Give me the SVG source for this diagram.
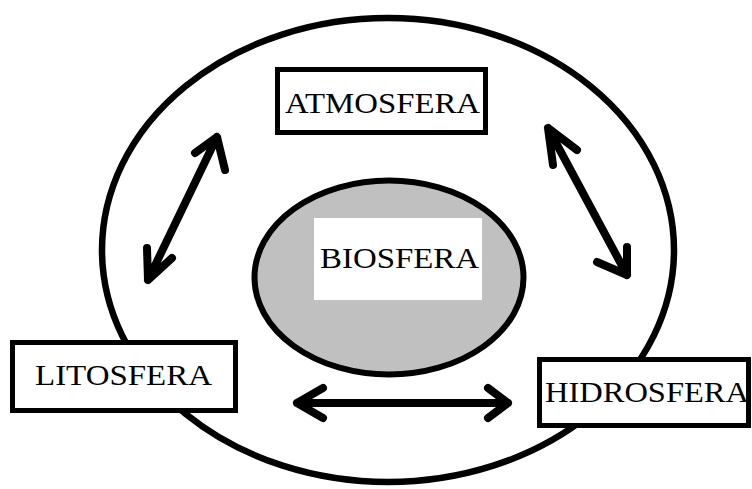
<svg xmlns="http://www.w3.org/2000/svg" width="752" height="489" viewBox="0 0 752 489">
<style>
.lbl{font-family:"Liberation Serif","Times New Roman",serif;font-size:30px;fill:#000}
.box{fill:#fff;stroke:#000;stroke-width:5}
.arr{fill:none;stroke:#000;stroke-width:8;stroke-linecap:round;stroke-linejoin:round}
</style>
<rect width="752" height="489" fill="#fff"/>
<g id="outer">
<ellipse cx="388" cy="250" rx="286" ry="232" fill="none" stroke="#000" stroke-width="6.5"/>
</g>
<g id="biosfera">
<ellipse cx="389" cy="277.5" rx="134.5" ry="97" fill="#c0c0c0" stroke="#000" stroke-width="6"/>
<rect x="314" y="218" width="168" height="82" fill="#fff"/>
<text class="lbl" x="320" y="268" textLength="159" lengthAdjust="spacingAndGlyphs">BIOSFERA</text>
</g>
<g id="connectors">
<path class="arr" d="M148,280 L217,137 M195,153 L217,137 L225,170 M147,248 L148,280 L172,258"/>
<path class="arr" d="M548,128 L627,275 M553,165 L548,128 L577,150 M597,262 L627,275 L627,247"/>
<path class="arr" d="M297,403 L508,403 M323,388 L297,403 L323,418 M488,388 L508,403 L488,418"/>
</g>
<g id="atmosfera">
<rect class="box" x="277.5" y="69.5" width="208" height="63"/>
<text class="lbl" x="285" y="113" textLength="195" lengthAdjust="spacingAndGlyphs">ATMOSFERA</text>
</g>
<g id="litosfera">
<rect class="box" x="12.5" y="342.5" width="223" height="68"/>
<text class="lbl" x="35" y="385" textLength="177" lengthAdjust="spacingAndGlyphs">LITOSFERA</text>
</g>
<g id="hidrosfera">
<rect class="box" x="539.5" y="359.5" width="209" height="66"/>
<text class="lbl" x="545" y="402" textLength="204" lengthAdjust="spacingAndGlyphs">HIDROSFERA</text>
</g>
</svg>
